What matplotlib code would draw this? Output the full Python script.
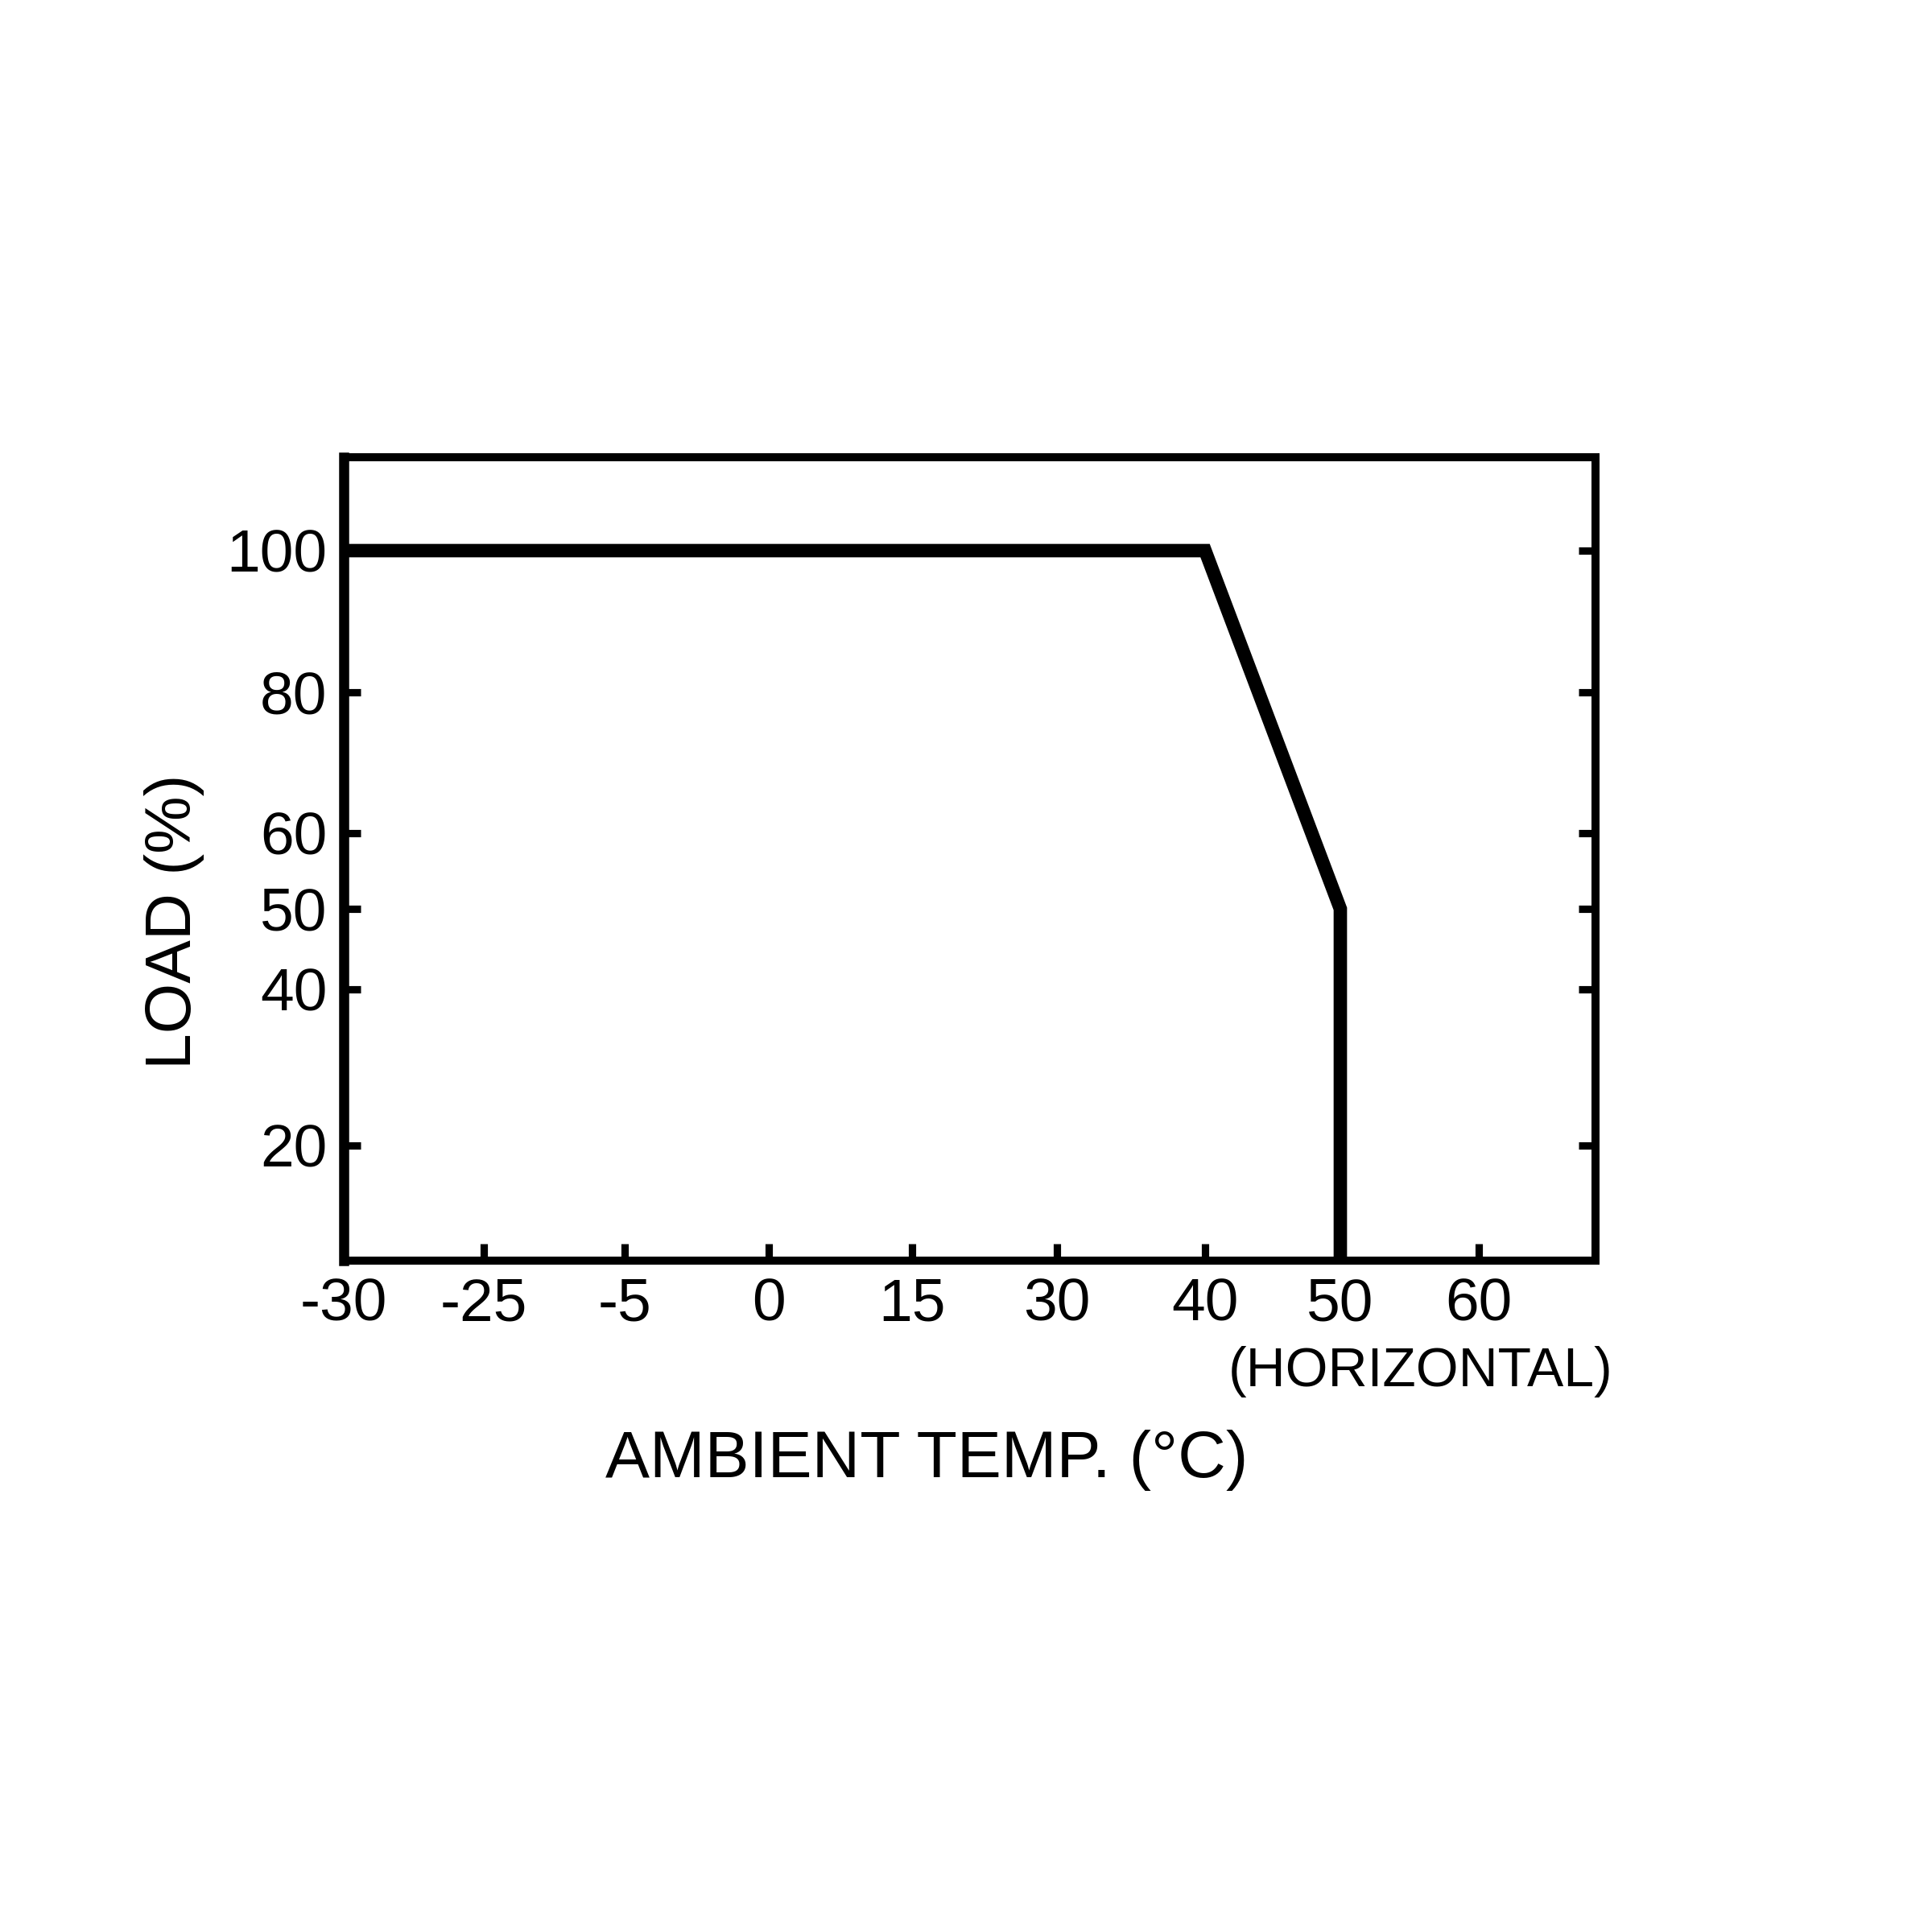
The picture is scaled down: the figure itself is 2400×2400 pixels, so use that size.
import numpy as np
import matplotlib
matplotlib.use("Agg")
import matplotlib.pyplot as plt

# ---- data ----
temp_ticks = [-30, -25, -5, 0, 15, 30, 40, 50, 60]
temp_labels = ["-30", "-25", "-5", "0", "15", "30", "40", "50", "60"]
load_ticks = [20, 40, 50, 60, 80, 100]
load_labels = ["20", "40", "50", "60", "80", "100"]

x_min, x_max = -30, 68.4
y_min, y_max = 5.3, 113.2

curve_temp = [-30, 40, 50, 50]
curve_load = [100, 100, 50, y_min]

# ---- non-uniform printed scales (anchor values -> relative position) ----
x_anchor_vals = [x_min, -25, -5, 0, 15, 30, 40, 50, 60, x_max]
x_anchor_rel = np.array([427, 601, 776, 955, 1133, 1313, 1497, 1665, 1837, 1982], float)
x_anchor_rel = (x_anchor_rel - 427) / (1982 - 427)

y_anchor_vals = [y_min, 20, 40, 50, 60, 80, 100, y_max]
y_anchor_rel = np.array([1566, 1423, 1229, 1129, 1035, 860, 684, 568], float)
y_anchor_rel = (1566 - y_anchor_rel) / (1566 - 568)


def make_scale(vals, rel):
    vals = np.asarray(vals, float)
    rel = np.asarray(rel, float)

    def fwd(v):
        return np.interp(v, vals, rel)

    def inv(r):
        return np.interp(r, rel, vals)

    return fwd, inv


plt.rcParams['font.family'] = ['Liberation Sans', 'DejaVu Sans']

fig = plt.figure(figsize=(8, 8), dpi=300)
ax = fig.add_axes([427 / 2400, 1 - 1566 / 2400, (1982 - 427) / 2400, (1566 - 568) / 2400])

ax.set_xscale('function', functions=make_scale(x_anchor_vals, x_anchor_rel))
ax.set_yscale('function', functions=make_scale(y_anchor_vals, y_anchor_rel))
ax.set_xlim(x_min, x_max)
ax.set_ylim(y_min, y_max)

ax.plot(curve_temp, curve_load, color='black', lw=4.0,
        solid_joinstyle='miter', solid_capstyle='butt', zorder=3)

ax.set_xticks(temp_ticks)
ax.set_xticklabels(temp_labels, fontsize=18)
ax.set_yticks(load_ticks)
ax.set_yticklabels(load_labels, fontsize=18)
ax.minorticks_off()

ax.tick_params(axis='x', direction='in', length=5, width=2.2, pad=5,
               bottom=True, top=False, colors='black')
ax.tick_params(axis='y', direction='in', length=5, width=2.2, pad=5,
               left=True, right=True, colors='black')

for side, sp in ax.spines.items():
    sp.set_linewidth(2.4)
    sp.set_color('black')
ax.spines['left'].set_linewidth(3.0)

fig.text(217 / 2400, 1 - 1145 / 2400, "LOAD (%)", rotation=90,
         ha='center', va='center', fontsize=19.3)
fig.text(1151 / 2400, 1 - 1814 / 2400, "AMBIENT TEMP. (°C)",
         ha='center', va='center', fontsize=19.8)
fig.text(2004 / 2400, 1 - 1704 / 2400, "(HORIZONTAL)",
         ha='right', va='center', fontsize=16.3)

fig.savefig("out.png", dpi=300, facecolor='white')
